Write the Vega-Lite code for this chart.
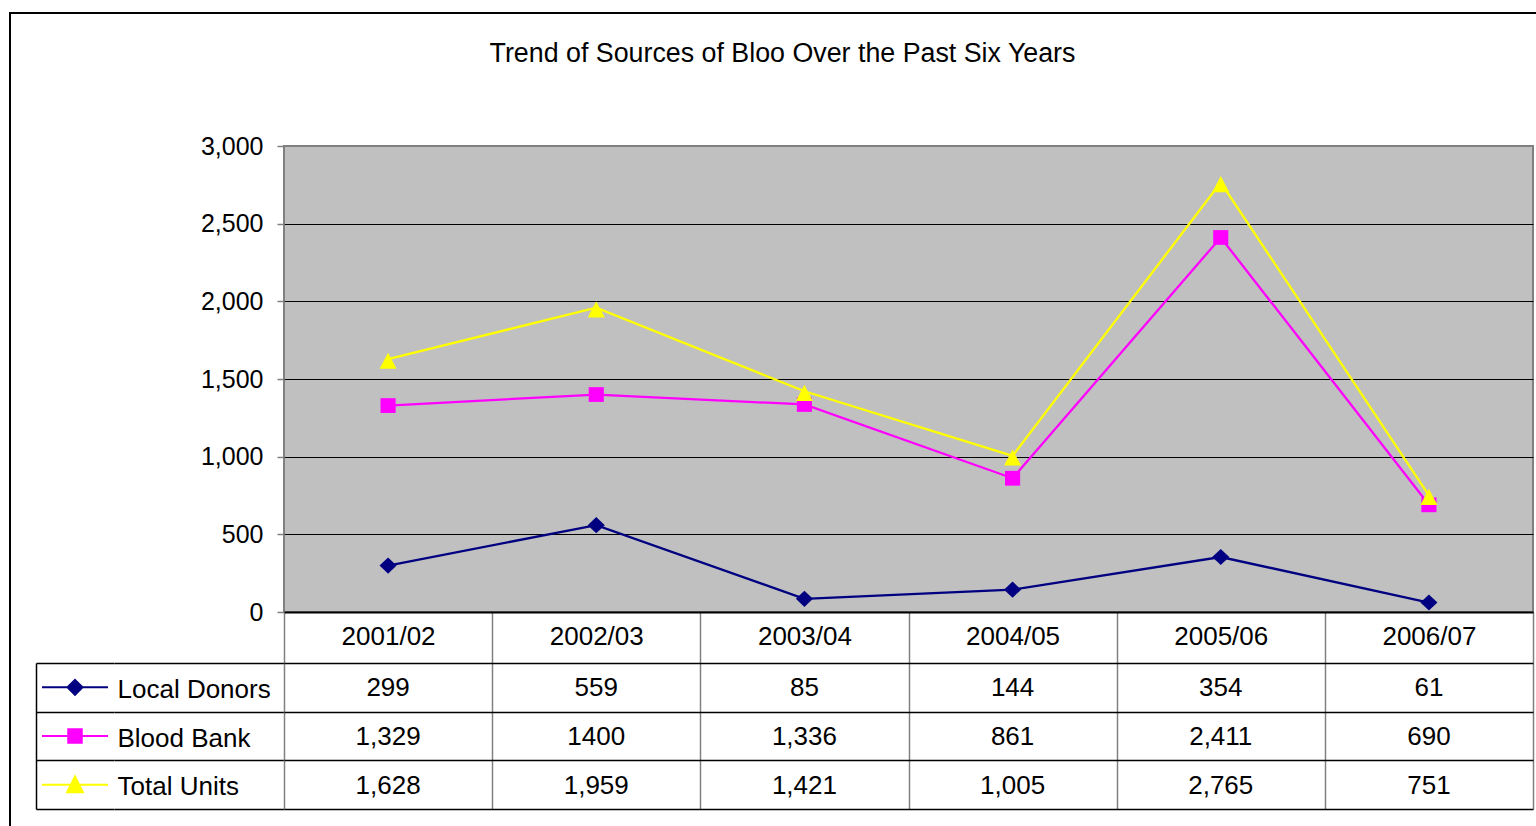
{
  "$schema": "https://vega.github.io/schema/vega-lite/v6.json",
  "padding": {"left": 9, "top": 12, "right": 0, "bottom": 0},
  "background": "white",
  "config": {
    "font": "Liberation Sans",
    "view": {"stroke": null},
    "legend": {"disable": true}
  },
  "datasets": {
    "src": [
      {"year": "2001/02", "series": "Local Donors", "value": 299, "label": "299"},
      {"year": "2002/03", "series": "Local Donors", "value": 559, "label": "559"},
      {"year": "2003/04", "series": "Local Donors", "value": 85, "label": "85"},
      {"year": "2004/05", "series": "Local Donors", "value": 144, "label": "144"},
      {"year": "2005/06", "series": "Local Donors", "value": 354, "label": "354"},
      {"year": "2006/07", "series": "Local Donors", "value": 61, "label": "61"},
      {"year": "2001/02", "series": "Blood Bank", "value": 1329, "label": "1,329"},
      {"year": "2002/03", "series": "Blood Bank", "value": 1400, "label": "1400"},
      {"year": "2003/04", "series": "Blood Bank", "value": 1336, "label": "1,336"},
      {"year": "2004/05", "series": "Blood Bank", "value": 861, "label": "861"},
      {"year": "2005/06", "series": "Blood Bank", "value": 2411, "label": "2,411"},
      {"year": "2006/07", "series": "Blood Bank", "value": 690, "label": "690"},
      {"year": "2001/02", "series": "Total Units", "value": 1628, "label": "1,628"},
      {"year": "2002/03", "series": "Total Units", "value": 1959, "label": "1,959"},
      {"year": "2003/04", "series": "Total Units", "value": 1421, "label": "1,421"},
      {"year": "2004/05", "series": "Total Units", "value": 1005, "label": "1,005"},
      {"year": "2005/06", "series": "Total Units", "value": 2765, "label": "2,765"},
      {"year": "2006/07", "series": "Total Units", "value": 751, "label": "751"}
    ]
  },
  "columns": 5,
  "spacing": 0,
  "bounds": "flush",
  "align": "each",
  "resolve": {"scale": {"shape": "independent", "color": "independent", "stroke": "independent"}},
  "concat": [
    {"width": 2, "height": 2, "data": {"values": []}, "mark": "point", "view": {"fill": "#000000"}},
    {"width": 25, "height": 2, "data": {"values": []}, "mark": "point", "view": {"fill": "#000000"}},
    {"width": 78, "height": 2, "data": {"values": []}, "mark": "point", "view": {"fill": "#000000"}},
    {"width": 170, "height": 2, "data": {"values": []}, "mark": "point", "view": {"fill": "#000000"}},
    {"width": 1262, "height": 2, "data": {"values": []}, "mark": "point", "view": {"fill": "#000000"}},

    {"width": 2, "height": 132, "data": {"values": []}, "mark": "point", "view": {"fill": "#000000"}},
    {"width": 1, "height": 1, "data": {"values": []}, "mark": "point"},
    {"width": 1, "height": 1, "data": {"values": []}, "mark": "point"},
    {"width": 1, "height": 1, "data": {"values": []}, "mark": "point"},
    {"width": 1, "height": 1, "data": {"values": []}, "mark": "point"},

    {"width": 2, "height": 517, "data": {"values": []}, "mark": "point", "view": {"fill": "#000000"}},
    {"width": 1, "height": 1, "data": {"values": []}, "mark": "point"},
    {"width": 1, "height": 1, "data": {"values": []}, "mark": "point"},
    {"width": 1, "height": 1, "data": {"values": []}, "mark": "point"},
    {
      "width": 1249,
      "height": 466,
      "data": {"name": "src"},
      "view": {"fill": "#C0C0C0", "stroke": "#808080", "strokeWidth": 2},
      "title": {"text": "Trend of Sources of Bloo Over the Past Six Years", "fontSize": 26.8, "fontWeight": "normal", "color": "#000000", "anchor": "middle", "frame": "group", "dx": -126, "offset": 45, "baseline": "alphabetic"},
      "encoding": {
        "x": {"field": "year", "type": "nominal", "bandPosition": 0.5,
          "scale": {"type": "band", "domain": ["2001/02", "2002/03", "2003/04", "2004/05", "2005/06", "2006/07"], "paddingInner": 0, "paddingOuter": 0},
          "axis": {"orient": "bottom", "title": null, "domain": true, "domainColor": "#000000", "domainWidth": 2, "ticks": true, "tickBand": "extent", "tickSize": 51, "tickColor": "#808080", "tickWidth": 1.5, "labels": true, "labelFontSize": 26, "labelColor": "#000000", "labelPadding": -40, "labelAngle": 0, "grid": false}},
        "y": {"field": "value", "type": "quantitative",
          "scale": {"domain": [0, 3000], "nice": false, "zero": true},
          "axis": {"values": [0, 500, 1000, 1500, 2000, 2500, 3000], "format": ",.0f", "labelFontSize": 25, "labelColor": "#000000", "tickSize": 7, "tickColor": "#808080", "tickWidth": 1.5, "labelPadding": 14, "domain": false, "grid": true, "gridColor": {"condition": {"test": "datum.value >= 3000", "value": "#808080"}, "value": "#000000"}, "gridWidth": 1, "title": null}},
        "color": {"field": "series", "type": "nominal",
          "scale": {"domain": ["Local Donors", "Blood Bank", "Total Units"], "range": ["#000080", "#FF00FF", "#FFFF00"]}}
      },
      "layer": [
        {"mark": {"type": "line", "strokeWidth": 2.3}},
        {
          "mark": {"type": "point", "filled": true, "opacity": 1, "size": 324},
          "encoding": {
            "shape": {"field": "series", "type": "nominal",
              "scale": {"domain": ["Local Donors", "Blood Bank", "Total Units"], "range": ["M0,-0.9L0.95,0L0,0.9L-0.95,0Z", "M-0.84,-0.82H0.84V0.82H-0.84Z", "M0,-0.72L0.95,1.08L-0.95,1.08Z"]}}
          }
        }
      ]
    },

    {"width": 2, "height": 170, "data": {"values": []}, "mark": "point", "view": {"fill": "#000000"}},
    {"width": 1, "height": 1, "data": {"values": []}, "mark": "point"},
    {
      "width": 78,
      "height": 146,
      "data": {"name": "src"},
      "transform": [{"filter": "datum.year == '2001/02'"}],
      "mark": {"type": "point", "filled": true, "opacity": 1, "size": 225, "strokeWidth": 2},
      "encoding": {
        "y": {"field": "series", "type": "nominal",
          "scale": {"type": "band", "domain": ["Local Donors", "Blood Bank", "Total Units"], "paddingInner": 0, "paddingOuter": 0},
          "axis": {"orient": "left", "labels": false, "ticks": false, "domain": true, "domainColor": "#000000", "domainWidth": 1.5, "grid": true, "tickBand": "extent", "gridColor": "#000000", "gridWidth": 1.5, "title": null}},
        "shape": {"field": "series", "type": "nominal",
          "scale": {"domain": ["Local Donors", "Blood Bank", "Total Units"],
            "range": ["M-4.4,0H4.4M0,-1L1,0L0,1L-1,0Z", "M-4.4,0H4.4M-0.9,-0.9H0.9V0.9H-0.9Z", "M-4.4,0H4.4M0,-1.1L1.05,1L-1.05,1Z"]}},
        "color": {"field": "series", "type": "nominal",
          "scale": {"domain": ["Local Donors", "Blood Bank", "Total Units"], "range": ["#000080", "#FF00FF", "#FFFF00"]}},
        "stroke": {"field": "series", "type": "nominal",
          "scale": {"domain": ["Local Donors", "Blood Bank", "Total Units"], "range": ["#000080", "#FF00FF", "#FFFF00"]}}
      }
    },
    {
      "width": 170,
      "height": 146,
      "data": {"name": "src"},
      "transform": [{"filter": "datum.year == '2001/02'"}],
      "mark": {"type": "point", "opacity": 0},
      "encoding": {
        "y": {"field": "series", "type": "nominal",
          "scale": {"type": "band", "domain": ["Local Donors", "Blood Bank", "Total Units"], "paddingInner": 0, "paddingOuter": 0},
          "axis": {"orient": "left", "labels": true, "labelAlign": "left", "labelBaseline": "middle", "labelPadding": -3, "labelFontSize": 26, "labelColor": "#000000", "labelLimit": 0, "labelOffset": 2, "ticks": false, "domain": false, "grid": true, "tickBand": "extent", "gridColor": "#000000", "gridWidth": 1.5, "title": null}}
      }
    },
    {
      "width": 1249,
      "height": 146,
      "data": {"name": "src"},
      "mark": {"type": "text", "fontSize": 26, "color": "#000000", "align": "center", "baseline": "middle", "dy": 1},
      "encoding": {
        "x": {"field": "year", "type": "nominal",
          "scale": {"type": "band", "domain": ["2001/02", "2002/03", "2003/04", "2004/05", "2005/06", "2006/07"], "paddingInner": 0, "paddingOuter": 0},
          "axis": {"orient": "bottom", "labels": false, "ticks": false, "domain": false, "grid": true, "tickBand": "extent", "gridColor": "#808080", "gridWidth": 1.5, "title": null}},
        "y": {"field": "series", "type": "nominal",
          "scale": {"type": "band", "domain": ["Local Donors", "Blood Bank", "Total Units"], "paddingInner": 0, "paddingOuter": 0},
          "axis": {"orient": "left", "labels": false, "ticks": false, "domain": false, "grid": true, "tickBand": "extent", "gridColor": "#000000", "gridWidth": 1.5, "title": null}},
        "text": {"field": "label", "type": "nominal"}
      }
    }
  ]
}
